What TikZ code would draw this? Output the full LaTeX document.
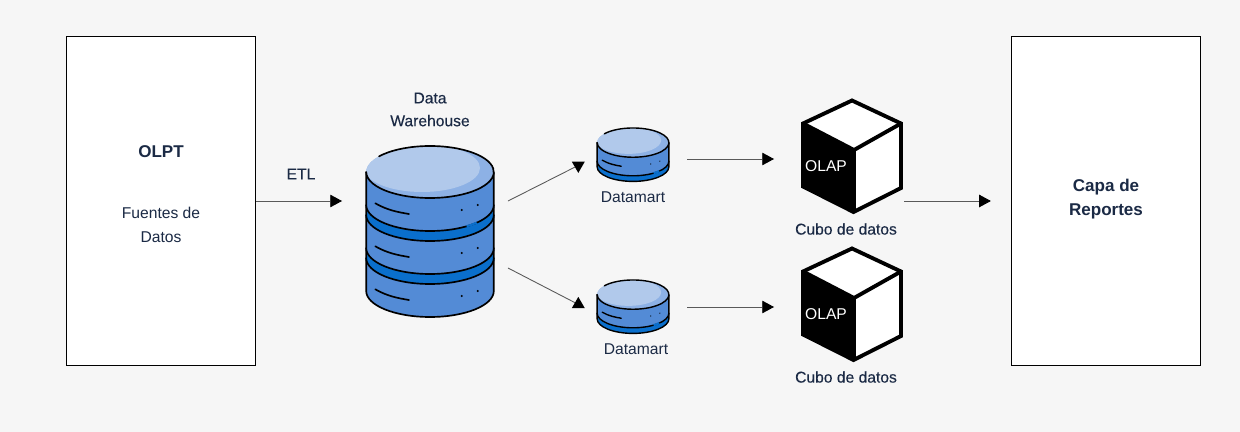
\documentclass[tikz,border=0pt]{standalone}
\usepackage{fontspec}
\setmainfont{Liberation Sans}
\newfontfamily\mediumfont[FakeBold=0.25]{Liberation Sans}
\usepackage{xcolor}
\usetikzlibrary{arrows.meta, shapes.geometric}
\definecolor{pagebg}{HTML}{F6F6F6}
\definecolor{inkblue}{HTML}{1B2A45}
\definecolor{bodyblue}{HTML}{538BD6}
\definecolor{bandblue}{HTML}{0A6FCC}
\definecolor{topblue}{HTML}{8DB1E5}
\definecolor{lightblue}{HTML}{B1C9EB}

\tikzset{
    dbline/.style={line width=.95pt, line cap=round},
    pics/dbband/.style={code={
        \draw[dbline, fill=bandblue] (-63.8,33) -- (-63.8,43) arc[start angle=180, end angle=0, x radius=63.8, y radius=26] -- (63.8,33);
    }},
    pics/dbdisk/.style={code={
        \fill[bodyblue] (-63.8,0) -- (-63.8,33) arc[start angle=180, end angle=0, x radius=63.8, y radius=26] -- (63.8,0) -- cycle;
        \draw[dbline] (-63.8,0) -- (-63.8,33) arc[start angle=180, end angle=0, x radius=63.8, y radius=26] -- (63.8,0);
        \draw[dbline] (-54.7,31.3) .. controls (-43,38) and (-33,40) .. (-21,42);
        \fill (31.7,38) circle[radius=1.1] (47.7,33) circle[radius=1.1];
    }},
    pics/dbtop/.style={code={
        \fill[topblue] (0,0) ellipse[x radius=63.8, y radius=26];
        \begin{scope}
            \clip (0,0) ellipse[x radius=63.8, y radius=26];
            \fill[lightblue] (-8,-4) ellipse[x radius=58, y radius=24];
        \end{scope}
        \draw[dbline] (0,0) ++(217:63.8 and 26) arc[start angle=217, end angle=540, x radius=63.8, y radius=26];
        \draw[line width=1.2pt, bandblue] (0,33) ++(55:63.8 and 26) arc[start angle=55, end angle=43, x radius=63.8, y radius=26];
    }},
    pics/olapcube/.style={code={
        \draw[cubeline, fill=white] (0,-58.5) -- (49,-35.5) -- (49,29) -- (1.5,53) -- (-49,27.5) -- (-49,-35.5) -- cycle;
        \fill[black] (-49,-35.5) -- (2,-9) -- (2,53) -- (-49,27.5) -- cycle;
        \draw[cubeline] (-49,-35.5) -- (2,-9) -- (49,-35.5) (2,-9) -- (2,53);
    }},
    cubeline/.style={line width=2.2pt}
}

\begin{document}
\begin{tikzpicture}[
    x=.02cm, y=-.02cm,
    panel/.style={rectangle, draw=black, fill=white, line width=.6pt, minimum width=3.78cm, minimum height=6.58cm, inner sep=0pt},
    hook/.style={rectangle, inner sep=0pt, outer sep=0pt},
    tiphead/.style={regular polygon, regular polygon sides=3, fill=black, minimum size=.3cm, inner sep=0pt, outer sep=0pt},
    label/.style={text=inkblue, font=\fontsize{8.9}{14}\selectfont, align=center, inner sep=0pt},
    strong/.style={text=inkblue, font=\fontsize{9.7}{14}\selectfont\bfseries, align=center, inner sep=0pt},
    medium/.style={text=inkblue, font=\fontsize{8.9}{13}\selectfont\mediumfont, align=center, inner sep=0pt},
    link/.style={draw=black!65, line width=.5pt},
    arrow/.style={link, -{Triangle[length=.235cm, width=.25cm, color=black]}}
]
    \fill[pagebg] (0,0) rectangle (1240,432);

    \node [panel] (olpt) at (161,201) {};
    \node [panel] (capa) at (1105.9,201) {};
    \node [strong] (olptname) at (161,152) {OLPT};
    \node [label] (olptsub) at (161,225) {Fuentes de\\Datos};
    \node [strong] (capaname) at (1106,199) {Capa de\\Reportes};

    % warehouse
    \pic at (430,258) {dbdisk};
    \pic at (430,215) {dbband};
    \pic at (430,215) {dbdisk};
    \pic at (430,172) {dbband};
    \pic at (430,172) {dbdisk};
    \pic at (430,172) {dbtop};
    \node [medium] (dwname) at (430,109.5) {Data\\Warehouse};
    \node [medium] (etl) at (301,174) {ETL};

    % datamarts
    \begin{scope}[dbline/.append style={line width=.8pt}]
    \foreach \y in {142.6, 294.6} {
        \pic[scale=.5625] at (633,\y) {dbband};
        \pic[scale=.5625] at (633,\y) {dbdisk};
        \pic[scale=.5625] at (633,\y) {dbtop};
    }
    \end{scope}
    \node [label] (dmupname) at (633,197) {Datamart};
    \node [label] (dmdownname) at (636,349) {Datamart};

    % cubes
    \pic at (852,159) {olapcube};
    \pic at (852,307) {olapcube};
    \node [label, text=white] (olapup) at (826,166.5) {OLAP};
    \node [label, text=white] (olapdown) at (826,314.5) {OLAP};
    \node [medium] (cubeupname) at (846,229) {Cubo de datos};
    \node [medium] (cubedownname) at (846,377) {Cubo de datos};

    % invisible boxes the arrows leave from and end at
    \node [hook, minimum width=3.32cm, minimum height=1.34cm] (dw) at (425,234.5) {};
    \node [hook, minimum width=2.04cm] (dmup) at (636,159) {};
    \node [hook, minimum width=2.04cm] (dmdown) at (636,307) {};
    \node [hook, minimum width=2.6cm] (cubeup) at (839,159) {};
    \node [hook, minimum width=2.6cm] (cubedown) at (839,307) {};
    \node [tiphead, shape border rotate=180] (tipup) at (578.3,165.4) {};
    \node [tiphead] (tipdown) at (578.3,304.4) {};

    \draw [arrow] (olpt) -- (dw.west |- olpt);
    \draw [link] (dw.north east) -- (tipup);
    \draw [link] (dw.south east) -- (tipdown);
    \draw [arrow] (dmup) -- (cubeup);
    \draw [arrow] (dmdown) -- (cubedown);
    \draw [arrow, shorten >=.4cm] (cubeup.east |- capa) -- (capa);
\end{tikzpicture}
\end{document}
